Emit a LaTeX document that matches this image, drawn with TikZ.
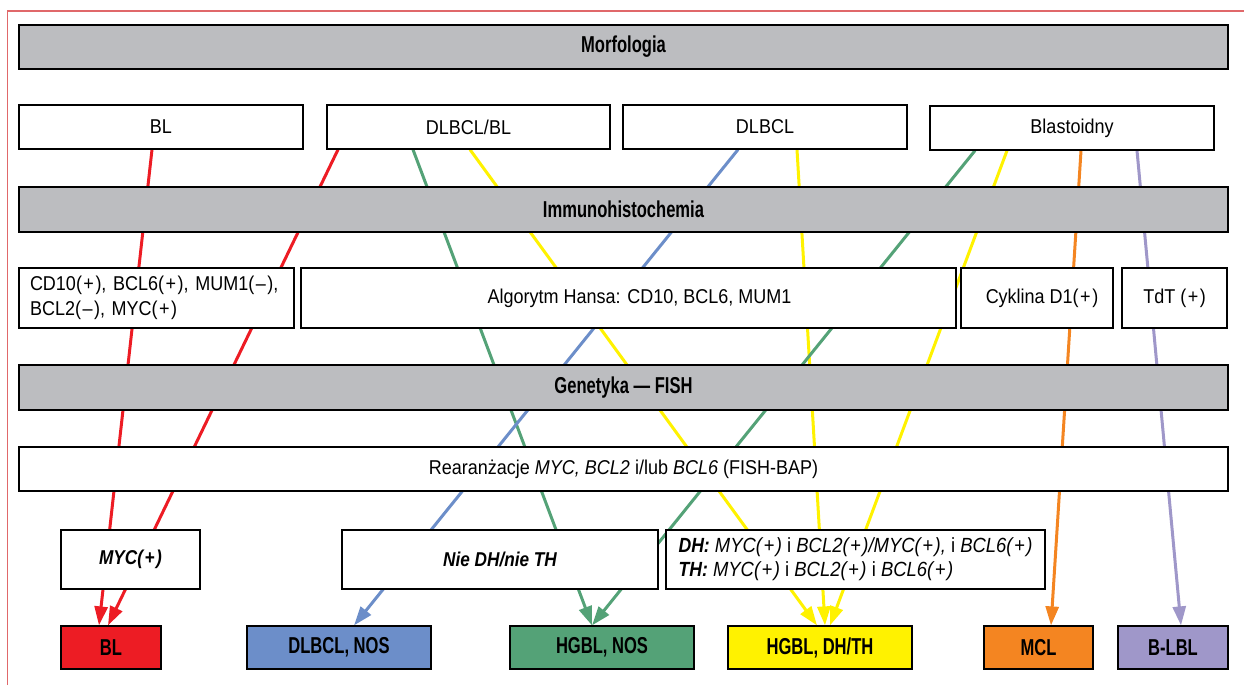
\documentclass[tikz,border=0pt]{standalone}
\usepackage{fontspec}
\setmainfont[FakeStretch=0.9]{Liberation Sans}
\newfontfamily\headfont[FakeStretch=0.72]{Liberation Sans}
\newfontfamily\labelfont[FakeStretch=0.86]{Liberation Sans}
\usetikzlibrary{arrows.meta}
\pgfdeclarelayer{background}
\pgfsetlayers{background,main}

\definecolor{barGray}{RGB}{188,189,192}
\definecolor{frameRed}{RGB}{224,104,106}
\definecolor{cRed}{RGB}{237,28,36}
\definecolor{cBlue}{RGB}{108,142,201}
\definecolor{cGreen}{RGB}{84,162,119}
\definecolor{cYellow}{RGB}{255,242,0}
\definecolor{cOrange}{RGB}{244,133,33}
\definecolor{cPurple}{RGB}{159,151,201}

% spaced sign in parentheses, e.g. (+) and (–)
\newcommand\sgn[1]{(\kern1.5pt#1\kern1.5pt)}

\begin{document}
\begin{tikzpicture}[x=1pt,y=-1pt,
  bar/.style={draw=black, line width=1.2pt, fill=barGray, inner sep=0pt,
    minimum width=1209pt, minimum height=44pt,
    font=\headfont\bfseries\fontsize{23}{27}\selectfont},
  box/.style={draw=black, line width=1.2pt, fill=white, inner sep=0pt,
    font=\fontsize{20}{25}\selectfont},
  result/.style={draw=black, line width=1.2pt, inner sep=0pt,
    minimum height=43pt, minimum width=184pt,
    font=\headfont\bfseries\fontsize{23}{27}\selectfont},
  flow/.style={line width=3pt, -{Triangle[length=19pt,width=13pt]}}
]
\useasboundingbox (0,0) rectangle (1244,685);

% page frame
\draw[frameRed, line width=1.2pt] (7.5,685) -- (7.5,11) -- (1244,11);

% section bars
\node[bar] (morf) at (623.5,47) {Morfologia};
\node[bar, minimum height=45pt] (ihc) at (623.5,209.5) {Immunohistochemia};
\node[bar, minimum height=45pt] (gen) at (623.5,387.5) {Genetyka — FISH};

% morphology
\node[box, minimum width=284pt, minimum height=44pt] (m1) at (161,127) {BL};
\node[box, minimum width=283pt, minimum height=44pt] (m2) at (468.5,127) {DLBCL/BL};
\node[box, minimum width=284pt, minimum height=44pt] (m3) at (765,127) {DLBCL};
\node[box, minimum width=284pt, minimum height=44pt] (m4) at (1072,128) {Blastoidny};

% immunohistochemistry
\node[box, minimum width=275pt, minimum height=60pt, text width=253pt, align=left] (i1) at (156.5,298)
  {CD10\sgn{+}, BCL6\sgn{+}, MUM1\sgn{–},\\BCL2\sgn{–}, MYC\sgn{+}};
\node[box, minimum width=655pt, minimum height=60pt] (i2) at (628.5,298) {\hspace*{22pt}Algorytm Hansa: CD10, BCL6, MUM1};
\node[box, minimum width=152pt, minimum height=60pt] (i3) at (1037,298) {\hspace*{10pt}Cyklina D1\sgn{+}};
\node[box, minimum width=105pt, minimum height=60pt] (i4) at (1174.5,298) {TdT \sgn{+}};

% genetics
\node[box, minimum width=1209pt, minimum height=44pt] (rear) at (623.5,469)
  {Rearanżacje \textit{MYC, BCL2} i/lub \textit{BCL6} (FISH-BAP)};

\node[box, minimum width=139pt, minimum height=59pt,
  font=\labelfont\bfseries\itshape\fontsize{20}{24}\selectfont] (g1) at (130.5,559.5) {MYC\sgn{+}};
\node[box, minimum width=316pt, minimum height=59pt,
  font=\labelfont\bfseries\itshape\fontsize{20}{24}\selectfont] (g2) at (500,559.5) {Nie DH/nie TH};
\node[box, minimum width=379pt, minimum height=59pt, align=left,
  font=\fontsize{20.5}{24}\selectfont] (g3) at (855.5,559.5)
  {{\labelfont\bfseries\itshape DH:} \textit{MYC\sgn{+}} i \textit{BCL2\sgn{+}/MYC\sgn{+},} i \textit{BCL6\sgn{+}}\\
   {\labelfont\bfseries\itshape TH:} \textit{MYC\sgn{+}} i \textit{BCL2\sgn{+}} i \textit{BCL6\sgn{+}}};

% diagnoses
\node[result, fill=cRed, minimum width=100pt] (r1) at (111,647.5) {BL};
\node[result, fill=cBlue] (r2) at (339,647.5) {DLBCL, NOS};
\node[result, fill=cGreen] (r3) at (602,647.5) {HGBL, NOS};
\node[result, fill=cYellow] (r4) at (820,647.5) {HGBL, DH/TH};
\node[result, fill=cOrange, minimum width=109pt] (r5) at (1038.5,647.5) {MCL};
\node[result, fill=cPurple, minimum width=110pt] (r6) at (1173,647.5) {B-LBL};

% diagnostic paths, running behind the boxes
\begin{pgfonlayer}{background}
\draw[flow, cRed]    ([xshift=-9pt]m1.south)    -- ([xshift=-12pt]r1.north);
\draw[flow, cRed]    ([xshift=-130.5pt]m2.south) -- ([xshift=-3pt]r1.north);
\draw[flow, cGreen]  ([xshift=-55.5pt]m2.south) -- ([xshift=-10pt]r3.north);
\draw[flow, cYellow] ([xshift=1.5pt]m2.south)   -- ([xshift=-3pt]r4.north);
\draw[flow, cBlue]   ([xshift=-27pt]m3.south)   -- ([xshift=15pt]r2.north);
\draw[flow, cYellow] ([xshift=32pt]m3.south)    -- ([xshift=5pt]r4.north);
\draw[flow, cGreen]  ([xshift=-97pt]m4.south)   -- ([xshift=-10pt]r3.north);
\draw[flow, cYellow] ([xshift=-65pt]m4.south)   -- ([xshift=10pt]r4.north);
\draw[flow, cOrange] ([xshift=9pt]m4.south)     -- ([xshift=12.5pt]r5.north);
\draw[flow, cPurple] ([xshift=65pt]m4.south)    -- ([xshift=8pt]r6.north);
\end{pgfonlayer}
\end{tikzpicture}
\end{document}
